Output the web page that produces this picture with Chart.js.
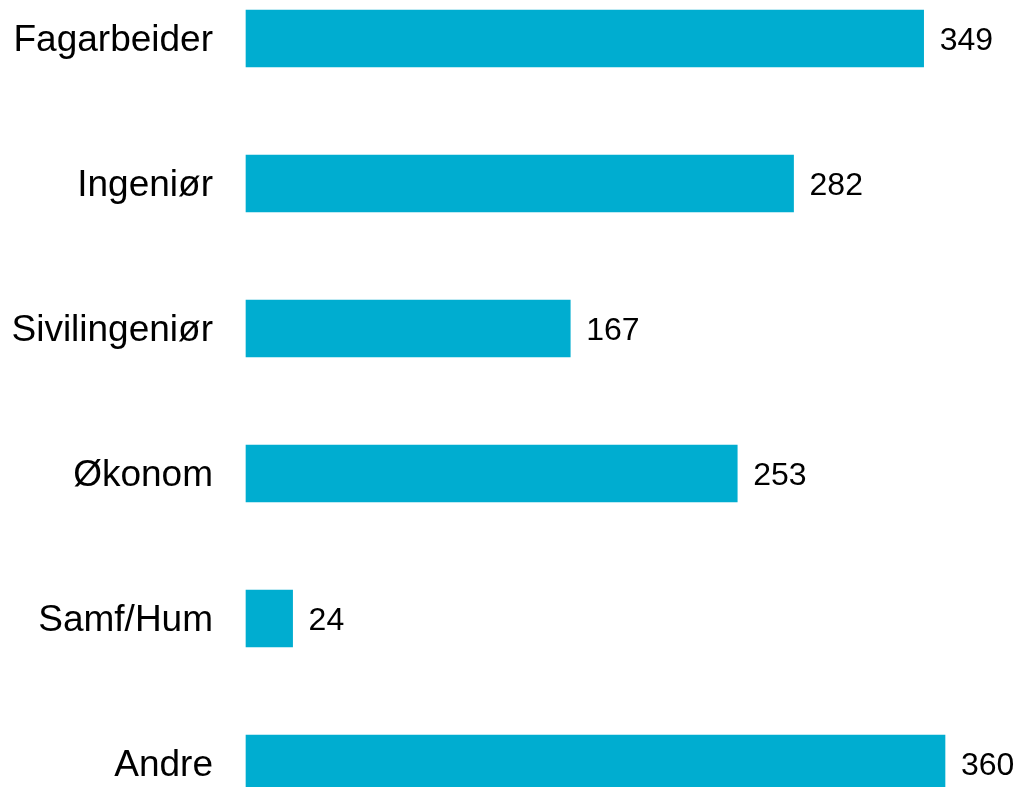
<!DOCTYPE html>
<html lang="no">
<head>
    <meta charset="UTF-8">
    <title>Utdanning</title>
    <script src="https://cdn.jsdelivr.net/npm/chart.js"></script>
    <style>
        body { margin: 0; background: #fff; overflow: hidden; }
    </style>
</head>
<body>
    <canvas id="chart" width="1021" height="787"></canvas>
    <script>
        // data
        const categories = ['Fagarbeider', 'Ingeniør', 'Sivilingeniør', 'Økonom', 'Samf/Hum', 'Andre'];
        const values = [349, 282, 167, 253, 24, 360];

        const barColor = '#00ADD0';
        const fontFamily = "'Liberation Sans', Arial, sans-serif";

        // tall til høyre for hver stolpe
        const valueLabels = {
            id: 'valueLabels',
            afterDatasetsDraw(chart) {
                const ctx = chart.ctx;
                const meta = chart.getDatasetMeta(0);
                ctx.save();
                ctx.font = '32px ' + fontFamily;
                ctx.fillStyle = '#000';
                ctx.textAlign = 'left';
                ctx.textBaseline = 'middle';
                meta.data.forEach((bar, i) => {
                    ctx.fillText(String(values[i]), bar.x + 16, bar.y + 3);
                });
                ctx.restore();
            }
        };

        new Chart(document.getElementById('chart').getContext('2d'), {
            type: 'bar',
            data: {
                labels: categories,
                datasets: [{
                    data: values,
                    backgroundColor: barColor,
                    borderWidth: 0,
                    barThickness: 57,
                    clip: false
                }]
            },
            options: {
                indexAxis: 'y',
                responsive: false,
                animation: false,
                layout: {
                    padding: { top: 38.5, bottom: 23.5, left: 0, right: 76 }
                },
                plugins: {
                    legend: { display: false },
                    tooltip: { enabled: false }
                },
                scales: {
                    x: {
                        display: false,
                        min: 0,
                        max: 360
                    },
                    y: {
                        offset: false,
                        grid: { display: false, drawTicks: false },
                        border: { display: false },
                        ticks: {
                            padding: 33,
                            labelOffset: 2,
                            color: '#000',
                            font: { size: 37, family: fontFamily }
                        },
                        afterFit(scale) {
                            scale.width = 246;
                            scale.paddingTop = 0;
                            scale.paddingBottom = 0;
                        }
                    }
                }
            },
            plugins: [valueLabels]
        });
    </script>
</body>
</html>
